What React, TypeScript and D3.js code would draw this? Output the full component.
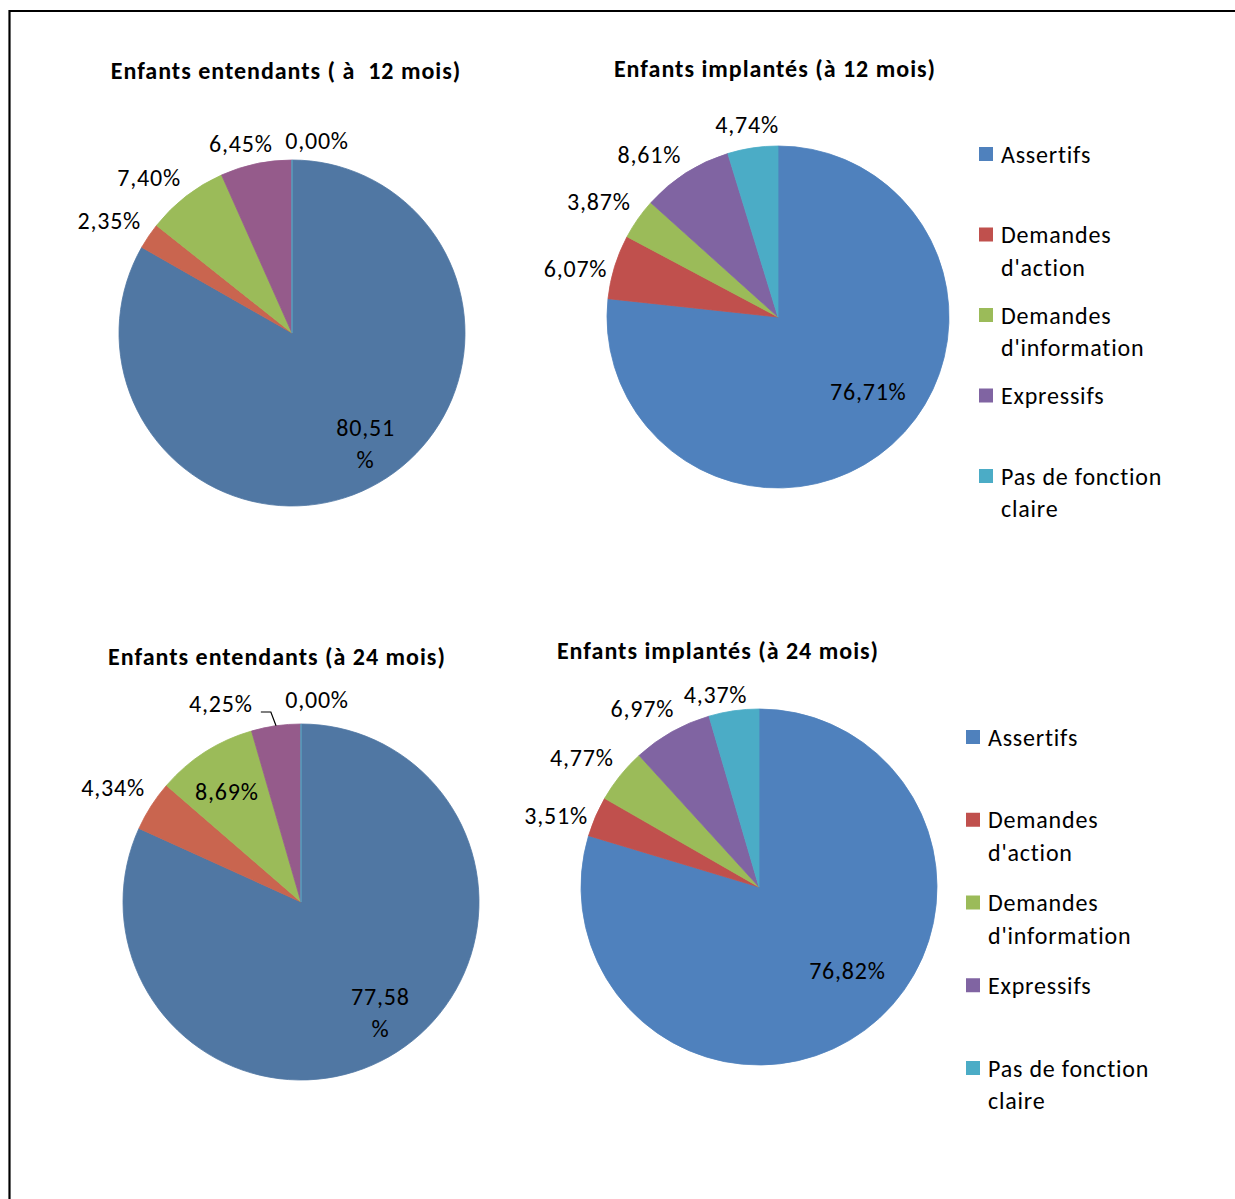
import React from "react";
import * as d3 from "d3";

const categories = [
  "Assertifs",
  "Demandes d'action",
  "Demandes d'information",
  "Expressifs",
  "Pas de fonction claire",
];

const titles = [
  "Enfants entendants ( à  12 mois)",
  "Enfants implantés (à 12 mois)",
  "Enfants entendants (à 24 mois)",
  "Enfants implantés (à 24 mois)",
];

const hearing12 = [80.51, 2.35, 7.4, 6.45, 0.0];
const implanted12 = [76.71, 6.07, 3.87, 8.61, 4.74];
const hearing24 = [77.58, 4.34, 8.69, 4.25, 0.0];
const implanted24 = [76.82, 3.51, 4.77, 6.97, 4.37];

const colorsHearing = ["#5077A3", "#C9654F", "#9BBB59", "#955B8B", "#4BACC6"];
const colorsImplanted = ["#4F81BD", "#C0504D", "#9BBB59", "#8064A2", "#4BACC6"];

// layout (not data)
type Nudge = [number, number];
interface PieLayout {
  values: number[];
  colors: string[];
  cx: number;
  cy: number;
  r: number;
  title: [number, number];
  inside: boolean[];
  wrapInside: boolean[];
  nudges: Nudge[];
  leader: boolean[];
  legend?: { x: number; y: number; step: number };
}

const pies: PieLayout[] = [
  {
    values: hearing12,
    colors: colorsHearing,
    cx: 292, cy: 333, r: 173,
    title: [286, 70],
    inside: [true, false, false, false, false],
    wrapInside: [true, false, false, false, false],
    nudges: [[11, 3], [-3, -2], [-10, 1], [-6, 4], [25, 5]],
    leader: [false, false, false, false, false],
  },
  {
    values: implanted12,
    colors: colorsImplanted,
    cx: 778, cy: 317, r: 171,
    title: [775, 68],
    inside: [true, false, false, false, false],
    wrapInside: [false, false, false, false, false],
    nudges: [[8, -17], [3, 9], [-3, -3], [-13, 3], [1, 1]],
    leader: [false, false, false, false, false],
    legend: { x: 979, y: 154, step: 80.5 },
  },
  {
    values: hearing24,
    colors: colorsHearing,
    cx: 301, cy: 902, r: 178,
    title: [277, 656],
    inside: [true, false, true, false, false],
    wrapInside: [true, false, false, false, false],
    nudges: [[10, 3], [-1, -5], [-5, -3], [-49, 2], [16, 0]],
    leader: [false, false, false, true, false],
  },
  {
    values: implanted24,
    colors: colorsImplanted,
    cx: 759, cy: 887, r: 178,
    title: [718, 650],
    inside: [true, false, false, false, false],
    wrapInside: [false, false, false, false, false],
    nudges: [[12, -19], [1, 9], [-4, -2], [-8, -2], [-12, 8]],
    leader: [false, false, false, false, false],
    legend: { x: 966, y: 737, step: 82.75 },
  },
];

const FONT = "Calibri, Carlito, Lato, sans-serif";
const FS = 24;
const LS = 0.8;
const LH = 32.5;

const fmt = (v: number) => v.toFixed(2).replace(".", ",") + "%";

function wrap(s: string, maxChars: number): string[] {
  const words = s.split(" ");
  const lines: string[] = [];
  let cur = "";
  for (const w of words) {
    const t = cur ? cur + " " + w : w;
    if (t.length > maxChars && cur) {
      lines.push(cur);
      cur = w;
    } else cur = t;
  }
  if (cur) lines.push(cur);
  return lines;
}

function Pie({ p }: { p: PieLayout }) {
  const pie = d3.pie<number>().sort(null).value((d) => d);
  const arcs = pie(p.values);
  const arc = d3.arc<d3.PieArcDatum<number>>().innerRadius(0).outerRadius(p.r);
  const hw = 32, hh = 13;
  return (
    <g>
      <text
        x={p.title[0]}
        y={p.title[1]}
        textAnchor="middle"
        dominantBaseline="central"
        fontWeight="bold"
        fontSize={FS}
        letterSpacing={1.0}
        style={{ whiteSpace: "pre" }}
      >
        {titles[pies.indexOf(p)]}
      </text>
      <g transform={`translate(${p.cx},${p.cy})`}>
        {arcs.map((a, i) => (
          <path key={i} d={arc(a) || ""} fill={p.colors[i]} stroke={p.colors[i]} strokeWidth={0.8} />
        ))}
        {arcs.map((a, i) => {
          const mid = (a.startAngle + a.endAngle) / 2;
          const s = Math.sin(mid), c = -Math.cos(mid);
          let x: number, y: number;
          if (p.inside[i]) {
            const rho = p.r * 0.72;
            x = rho * s;
            y = rho * c;
          } else {
            const rho = p.r + 12;
            x = rho * s + s * hw;
            y = rho * c + c * hh;
          }
          x += p.nudges[i][0];
          y += p.nudges[i][1];
          const label = fmt(p.values[i]);
          const lines = p.wrapInside[i] ? [label.slice(0, -1), "%"] : [label];
          const y0 = y - ((lines.length - 1) * LH) / 2;
          let leader = null;
          if (p.leader[i]) {
            const right = x + hw;
            const ly = y + 9;
            const ax = p.r * s, ay = p.r * c;
            leader = (
              <polyline
                points={`${right + 8},${ly} ${right + 18},${ly} ${ax},${ay}`}
                fill="none"
                stroke="#000"
                strokeWidth={1.2}
              />
            );
          }
          return (
            <g key={"l" + i}>
              {leader}
              {lines.map((t, j) => (
                <text key={j} x={x} y={y0 + j * LH} textAnchor="middle" dominantBaseline="central" fontSize={FS} letterSpacing={LS}>
                  {t}
                </text>
              ))}
            </g>
          );
        })}
      </g>
      {p.legend && (
        <g>
          {categories.map((cat, i) => {
            const ly = p.legend!.y + i * p.legend!.step;
            const lines = wrap(cat, 15);
            return (
              <g key={i}>
                <rect x={p.legend!.x} y={ly - 7} width={14} height={14} fill={p.colors[i]} />
                {lines.map((t, j) => (
                  <text key={j} x={p.legend!.x + 22} y={ly + j * LH} dominantBaseline="central" fontSize={FS} letterSpacing={LS}>
                    {t}
                  </text>
                ))}
              </g>
            );
          })}
        </g>
      )}
    </g>
  );
}

export default function App() {
  return (
    <svg
      width={1235}
      height={1199}
      style={{ position: "absolute", left: 0, top: 0, background: "#fff" }}
      fontFamily={FONT}
    >
      <rect x={0} y={0} width={1235} height={1199} fill="#fff" />
      <line x1={9.5} y1={11} x2={1235} y2={11} stroke="#000" strokeWidth={2.2} />
      <line x1={9.5} y1={10} x2={9.5} y2={1199} stroke="#000" strokeWidth={2.2} />
      {pies.map((p, i) => (
        <Pie key={i} p={p} />
      ))}
    </svg>
  );
}
